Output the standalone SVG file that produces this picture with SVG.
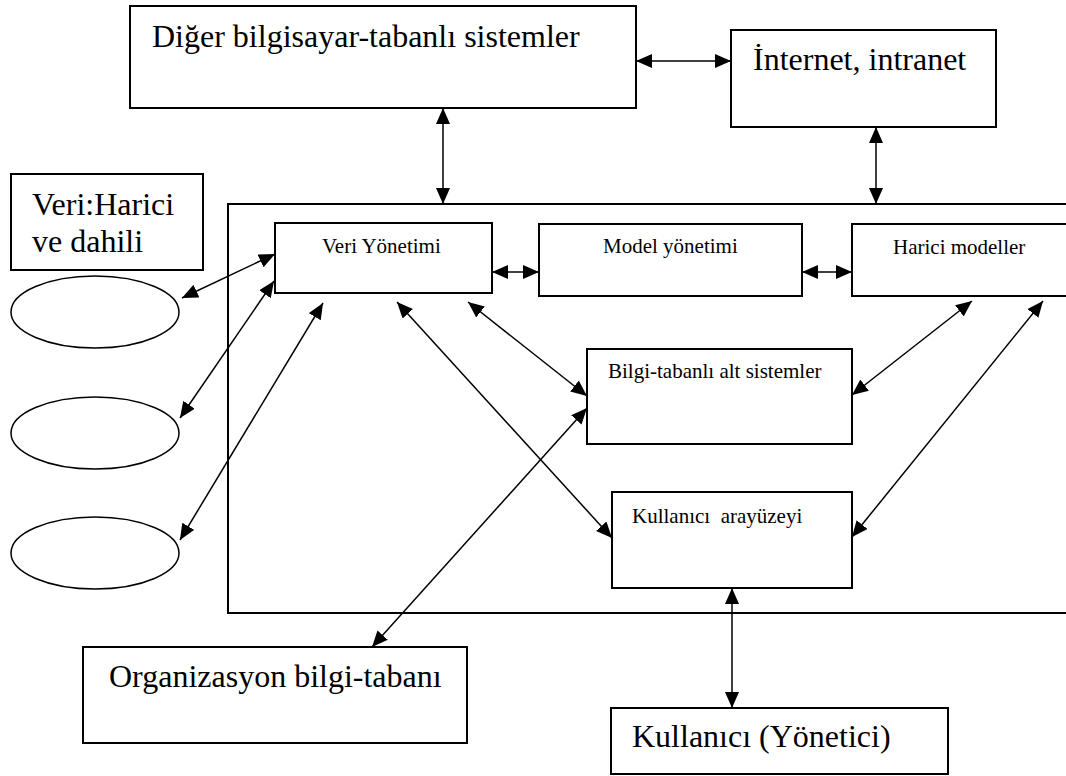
<svg xmlns="http://www.w3.org/2000/svg" width="1066" height="776" viewBox="0 0 1066 776">
<style>
.box{fill:#fff;stroke:#000;stroke-width:2}
.big{font-family:"Liberation Serif","Times New Roman",serif;font-size:32px;fill:#000}
.sm{font-family:"Liberation Serif","Times New Roman",serif;font-size:21px;fill:#000}
.c{stroke:#000;stroke-width:1.5;fill:none;marker-start:url(#ah);marker-end:url(#ah)}
</style>
<defs>
<marker id="ah" markerUnits="userSpaceOnUse" markerWidth="17" markerHeight="15" refX="16" refY="7" orient="auto-start-reverse">
<path d="M0,0 L16,7 L0,14 z" fill="#000"/>
</marker>
</defs>
<rect width="1066" height="776" fill="#fff"/>
<g id="container"><rect class="box" x="228" y="204" width="900" height="409"/></g>
<g id="diger"><rect class="box" x="130" y="6" width="506" height="102"/><text class="big" x="152" y="47">Diğer bilgisayar-tabanlı sistemler</text></g>
<g id="internet"><rect class="box" x="731" y="30" width="265" height="97"/><text class="big" x="753" y="70">İnternet, intranet</text></g>
<g id="veri-harici"><rect class="box" x="11" y="174" width="192" height="96"/><text class="big" x="32" y="215">Veri:Harici</text><text class="big" x="32" y="252">ve dahili</text></g>
<g id="ellipse1"><ellipse cx="95" cy="312" rx="84" ry="36" fill="#fff" stroke="#000" stroke-width="1.5"/></g>
<g id="ellipse2"><ellipse cx="95" cy="433" rx="84" ry="36" fill="#fff" stroke="#000" stroke-width="1.5"/></g>
<g id="ellipse3"><ellipse cx="95" cy="553" rx="84" ry="36" fill="#fff" stroke="#000" stroke-width="1.5"/></g>
<g id="veri-yonetimi"><rect class="box" x="275" y="223" width="217" height="70"/><text class="sm" x="322" y="253">Veri Yönetimi</text></g>
<g id="model-yonetimi"><rect class="box" x="539" y="224" width="263" height="72"/><text class="sm" x="603" y="253">Model yönetimi</text></g>
<g id="harici-modeller"><rect class="box" x="852" y="224" width="300" height="72"/><text class="sm" x="893" y="254">Harici modeller</text></g>
<g id="bilgi"><rect class="box" x="587" y="349" width="265" height="95"/><text class="sm" x="608" y="378">Bilgi-tabanlı alt sistemler</text></g>
<g id="arayuz"><rect class="box" x="612" y="492" width="240" height="96"/><text class="sm" x="632" y="523" xml:space="preserve">Kullanıcı  arayüzeyi</text></g>
<g id="organizasyon"><rect class="box" x="83" y="647" width="384" height="96"/><text class="big" x="109" y="687">Organizasyon bilgi-tabanı</text></g>
<g id="kullanici"><rect class="box" x="611" y="708" width="337" height="66"/><text class="big" x="632" y="747">Kullanıcı (Yönetici)</text></g>
<g id="connectors">
<line class="c" x1="636" y1="61" x2="731" y2="61"/>
<line class="c" x1="443" y1="108" x2="443" y2="204"/>
<line class="c" x1="876" y1="127" x2="876" y2="204"/>
<line class="c" x1="492" y1="272" x2="539" y2="272"/>
<line class="c" x1="802" y1="272" x2="852" y2="272"/>
<line class="c" x1="182" y1="298" x2="275" y2="254"/>
<line class="c" x1="180" y1="418" x2="274" y2="281"/>
<line class="c" x1="180" y1="540" x2="323" y2="303"/>
<line class="c" x1="397" y1="302" x2="612" y2="538"/>
<line class="c" x1="468" y1="302" x2="587" y2="396"/>
<line class="c" x1="372" y1="647" x2="587" y2="408"/>
<line class="c" x1="972" y1="301" x2="852" y2="395"/>
<line class="c" x1="1043" y1="301" x2="852" y2="537"/>
<line class="c" x1="732" y1="588" x2="732" y2="708"/>
</g>
</svg>
